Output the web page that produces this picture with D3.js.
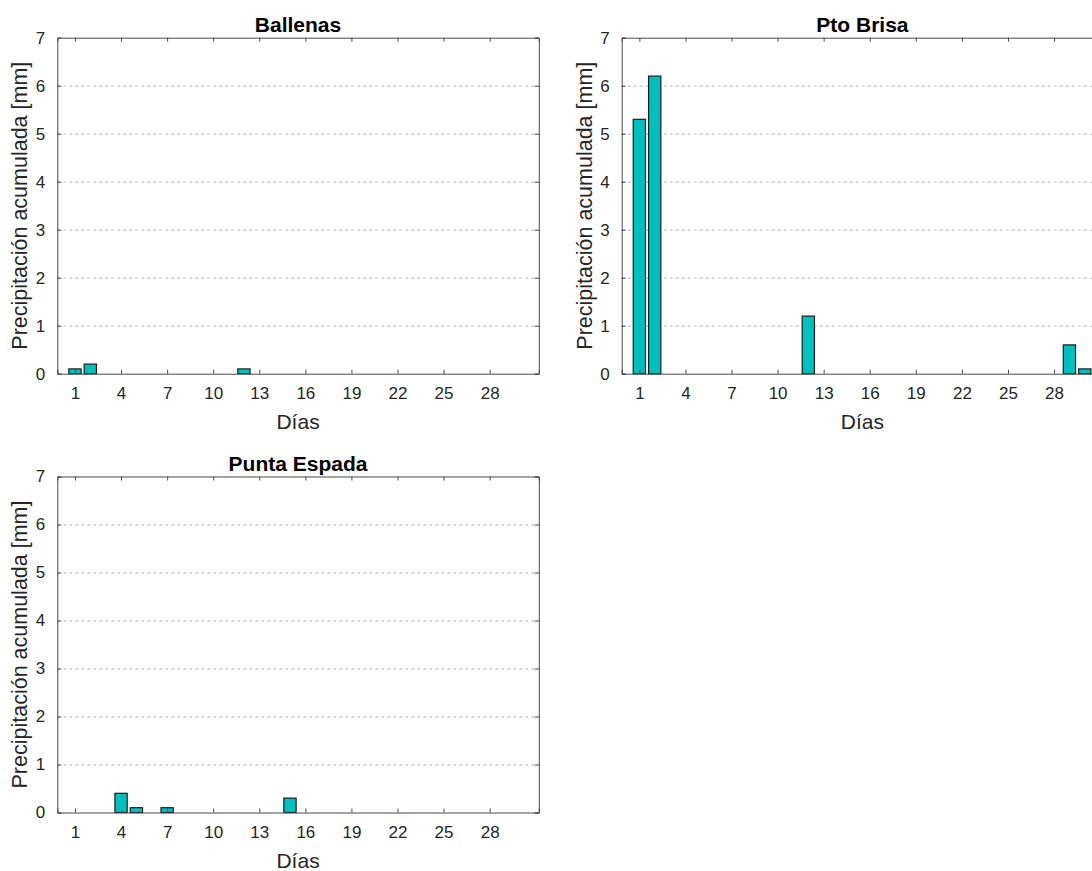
<!DOCTYPE html>
<html>
<head>
<meta charset="utf-8">
<script src="https://cdn.jsdelivr.net/npm/d3@7"></script>
<style>
  html, body { margin: 0; padding: 0; background: #fff; }
  svg { display: block; font-family: "Liberation Sans", Arial, Helvetica, sans-serif; }
</style>
</head>
<body>
<svg id="chart" width="1092" height="871"></svg>
<script>
// Daily accumulated precipitation [mm] per station (days 1..31)
const days = d3.range(1, 32);
const ballenas    = [0.1, 0.2, 0, 0, 0, 0, 0, 0, 0, 0, 0, 0.1, 0, 0, 0, 0, 0, 0, 0, 0, 0, 0, 0, 0, 0, 0, 0, 0, 0, 0, 0];
const ptoBrisa    = [5.3, 6.2, 0, 0, 0, 0, 0, 0, 0, 0, 0, 1.2, 0, 0, 0, 0, 0, 0, 0, 0, 0, 0, 0, 0, 0, 0, 0, 0, 0.6, 0.1, 0];
const puntaEspada = [0, 0, 0, 0.4, 0.1, 0, 0.1, 0, 0, 0, 0, 0, 0, 0, 0.3, 0, 0, 0, 0, 0, 0, 0, 0, 0, 0, 0, 0, 0, 0, 0, 0];
const stationNames = ["Ballenas", "Pto Brisa", "Punta Espada"];
const xTicks = [1, 4, 7, 10, 13, 16, 19, 22, 25, 28];
const yTicks = [0, 1, 2, 3, 4, 5, 6, 7];

const series = [ballenas, ptoBrisa, puntaEspada];

// Panel placement (axes boxes in px)
const panelW = 481.5, panelH = 336;
const origins = [[57.3, 37.7], [621.7, 37.7], [57.3, 476.5]];

const barFill = "#00bfbf", barEdge = "#1e1e1e";
const axisColor = "#4a4a4a";
const tickLen = 4;

const svg = d3.select("#chart");

series.forEach((vals, i) => {
  const [ox, oy] = origins[i];
  const g = svg.append("g").attr("transform", `translate(${ox},${oy})`);

  const x = d3.scaleLinear().domain([-0.15, 31.2]).range([0, panelW]);
  const y = d3.scaleLinear().domain([0, 7]).range([panelH, 0]);
  const bw = x(0.8) - x(0);

  // horizontal dashed grid
  g.append("g").selectAll("line")
    .data(yTicks.filter(t => t > 0 && t < 7))
    .join("line")
    .attr("x1", 0).attr("x2", panelW)
    .attr("y1", d => Math.round(y(d)) + 0.5).attr("y2", d => Math.round(y(d)) + 0.5)
    .attr("stroke", "#b4b4b4").attr("stroke-width", 1)
    .attr("stroke-dasharray", "3,3");

  // bars
  g.append("g").selectAll("rect")
    .data(days.map((d, k) => ({ day: d, v: vals[k] })).filter(d => d.v > 0))
    .join("rect")
    .attr("x", d => x(d.day) - bw / 2)
    .attr("width", bw)
    .attr("y", d => y(d.v))
    .attr("height", d => y(0) - y(d.v))
    .attr("fill", barFill)
    .attr("stroke", barEdge)
    .attr("stroke-width", 1.2);

  // axes with inward ticks (bottom/top share positions, left/right share positions)
  const axBottom = d3.axisBottom(x).tickValues(xTicks).tickSize(-tickLen).tickPadding(13).tickFormat(d3.format("d"));
  const axTop = d3.axisTop(x).tickValues(xTicks).tickSize(-tickLen).tickFormat("");
  const axLeft = d3.axisLeft(y).tickValues(yTicks).tickSize(-tickLen).tickPadding(12).tickFormat(d3.format("d"));
  const axRight = d3.axisRight(y).tickValues(yTicks).tickSize(-tickLen).tickFormat("");

  const styleAxis = sel => {
    sel.select(".domain").attr("stroke", axisColor).attr("stroke-width", 1);
    sel.selectAll(".tick line").attr("stroke", axisColor).attr("stroke-width", 1);
    sel.selectAll(".tick text").attr("fill", "#262626")
      .attr("font-size", 17).attr("font-family", "Liberation Sans, Arial, sans-serif");
  };

  g.append("g").attr("transform", `translate(0,${panelH})`).call(axBottom).call(styleAxis);
  g.append("g").call(axTop).call(styleAxis);
  g.append("g").call(axLeft).call(styleAxis);
  g.append("g").attr("transform", `translate(${panelW},0)`).call(axRight).call(styleAxis);

  // title
  g.append("text")
    .attr("x", panelW / 2).attr("y", -6)
    .attr("text-anchor", "middle")
    .attr("font-size", 21).attr("font-weight", "bold").attr("fill", "#000")
    .text(stationNames[i]);

  // x label
  g.append("text")
    .attr("x", panelW / 2).attr("y", panelH + 55)
    .attr("text-anchor", "middle")
    .attr("font-size", 21).attr("fill", "#262626")
    .text("Días");

  // y label
  g.append("text")
    .attr("transform", `translate(${-30},${panelH / 2}) rotate(-90)`)
    .attr("text-anchor", "middle")
    .attr("font-size", 21.5).attr("fill", "#262626")
    .text("Precipitación acumulada [mm]");
});
</script>
</body>
</html>
